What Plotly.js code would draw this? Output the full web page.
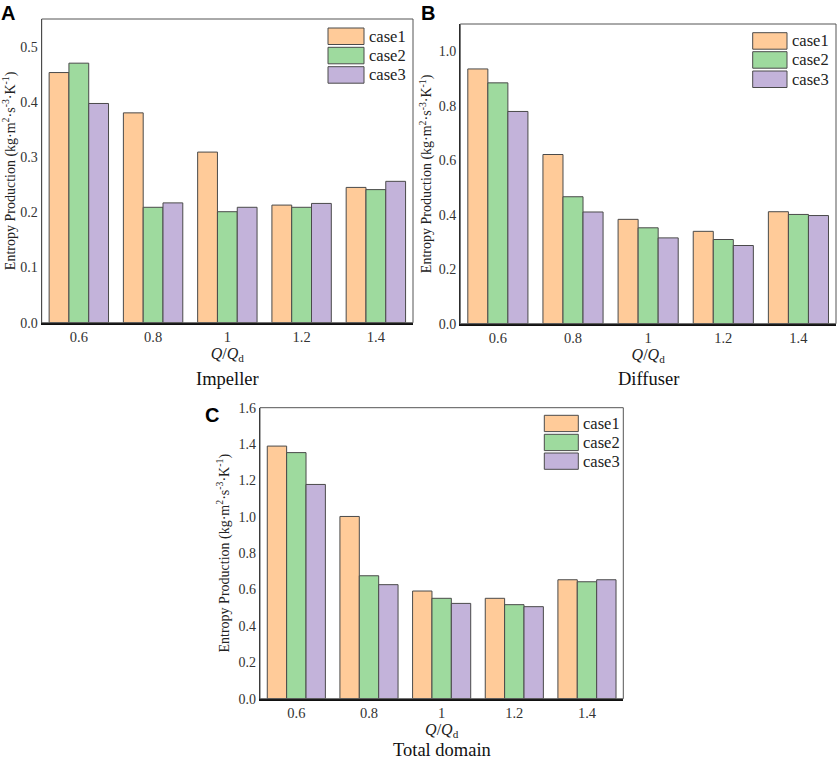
<!DOCTYPE html>
<html><head><meta charset="utf-8">
<script src="https://cdn.plot.ly/plotly-3.0.1.min.js"></script>
<style>html,body{margin:0;padding:0;background:#fff}</style>
</head><body><div id="chart" style="width:837px;height:759px"></div>
<script>
// ---- data ----
const categories = ["0.6", "0.8", "1", "1.2", "1.4"];
const seriesNames = ["case1", "case2", "case3"];
const impellerCase1 = [0.453, 0.380, 0.309, 0.213, 0.245];
const impellerCase2 = [0.470, 0.209, 0.201, 0.209, 0.241];
const impellerCase3 = [0.397, 0.217, 0.209, 0.216, 0.256];
const diffuserCase1 = [0.935, 0.621, 0.383, 0.339, 0.411];
const diffuserCase2 = [0.884, 0.466, 0.352, 0.309, 0.401];
const diffuserCase3 = [0.779, 0.410, 0.315, 0.287, 0.397];
const totalCase1 = [1.389, 1.002, 0.592, 0.552, 0.654];
const totalCase2 = [1.353, 0.676, 0.552, 0.517, 0.643];
const totalCase3 = [1.178, 0.627, 0.524, 0.506, 0.654];
const panelNames = ["Impeller", "Diffuser", "Total domain"];
const panelLetters = ["A", "B", "C"];

// ---- styles ----
const colors = ["#FFCB99", "#9EDA9E", "#C3B3DA"];
const edge = "#4a4a4a";
const serif = "'Liberation Serif', 'Times New Roman', serif";
const W = 837, H = 759;
const px = v => v / W;
const py = v => 1 - v / H;

const panels = [
  {data: [impellerCase1, impellerCase2, impellerCase3], xa: "x", ya: "y",
   box: [41.7, 413, 19, 322.7], yr: [0, 0.55], dtick: 0.1, fmt: ".1f", standoff: 2,
   sub: [227, 379], letter: [8, 0, "top"], leg: [328, 364, [28, 47.3, 66.7], 16.5]},
  {data: [diffuserCase1, diffuserCase2, diffuserCase3], xa: "x2", ya: "y2",
   box: [460.3, 836, 24, 323.7], yr: [0, 1.1], dtick: 0.2, fmt: ".1f", standoff: 3,
   sub: [648, 379], letter: [428, 0, "top"], leg: [752.7, 787, [32.7, 51.7, 71], 16.5]},
  {data: [totalCase1, totalCase2, totalCase3], xa: "x3", ya: "y3",
   box: [260, 623.3, 407.7, 698.7], yr: [0, 1.6], dtick: 0.2, fmt: ".1f", standoff: 5,
   sub: [441.7, 750], letter: [212, 415, "middle"], leg: [544.3, 578.3, [415.3, 434.3, 453], 16.3]}
];

const traces = [];
const layout = {
  width: W, height: H, margin: {l: 0, r: 0, t: 0, b: 0},
  paper_bgcolor: "#fff", plot_bgcolor: "#fff",
  showlegend: false, barmode: "group", bargap: 0.2, bargroupgap: 0,
  font: {family: serif, color: "#222"},
  shapes: [], annotations: []
};

panels.forEach((p, i) => {
  const n = i === 0 ? "" : String(i + 1);
  p.data.forEach((vals, s) => {
    traces.push({
      type: "bar", x: categories, y: vals, name: seriesNames[s],
      xaxis: p.xa, yaxis: p.ya,
      marker: {color: colors[s], line: {color: edge, width: 1}},
      hoverinfo: "x+y+name"
    });
  });
  layout["xaxis" + n] = {
    domain: [px(p.box[0]), px(p.box[1])], anchor: p.ya, type: "category",
    range: [-0.5, 4.5], showgrid: false, zeroline: false,
    showline: true, linecolor: "#111", linewidth: 2, ticks: "",
    tickfont: {family: serif, size: 14.5, color: "#333"},
    title: {text: "<i>Q</i>/<i>Q</i><sub>d</sub>", font: {family: serif, size: 16, color: "#222"}, standoff: 3},
    automargin: false, fixedrange: true
  };
  layout["yaxis" + n] = {
    domain: [py(p.box[3]), py(p.box[2])], anchor: p.xa,
    range: p.yr, dtick: p.dtick, tick0: 0, tickformat: p.fmt,
    showgrid: false, zeroline: false,
    showline: true, linecolor: "#222", linewidth: 1.3, ticks: "",
    tickfont: {family: serif, size: 14, color: "#333"},
    title: {text: "Entropy Production (kg·m<sup>2</sup>·s<sup>-3</sup>·K<sup>-1</sup>)",
            font: {family: serif, size: 14, color: "#222"}, standoff: p.standoff},
    automargin: false, fixedrange: true
  };
  // frame
  layout.shapes.push({type: "rect", xref: p.xa + " domain", yref: p.ya + " domain",
    x0: 0, x1: 1, y0: 0, y1: 1, line: {color: "#555", width: 1}, layer: "above"});
  // legend swatches & labels
  p.leg[2].forEach((top, s) => {
    layout.shapes.push({type: "rect", xref: "paper", yref: "paper",
      x0: px(p.leg[0]), x1: px(p.leg[1]), y0: py(top + p.leg[3]), y1: py(top),
      fillcolor: colors[s], line: {color: edge, width: 1}});
    layout.annotations.push({xref: "paper", yref: "paper", x: px(p.leg[1] + 3), y: py(top + p.leg[3] / 2),
      xanchor: "left", yanchor: "middle", text: seriesNames[s], showarrow: false,
      font: {family: serif, size: 16.5, color: "#222"}});
  });
  layout.annotations.push({xref: "paper", yref: "paper", x: px(p.sub[0]), y: py(p.sub[1]),
    xanchor: "center", yanchor: "middle", text: panelNames[i], showarrow: false,
    font: {family: serif, size: 18.5, color: "#111"}});
  layout.annotations.push({xref: "paper", yref: "paper", x: px(p.letter[0]), y: py(p.letter[1]),
    xanchor: "center", yanchor: p.letter[2], text: "<b>" + panelLetters[i] + "</b>", showarrow: false,
    font: {family: "'Liberation Sans', Arial, sans-serif", size: 20, color: "#000"}});
});

Plotly.newPlot("chart", traces, layout, {displayModeBar: false});
</script></body></html>
